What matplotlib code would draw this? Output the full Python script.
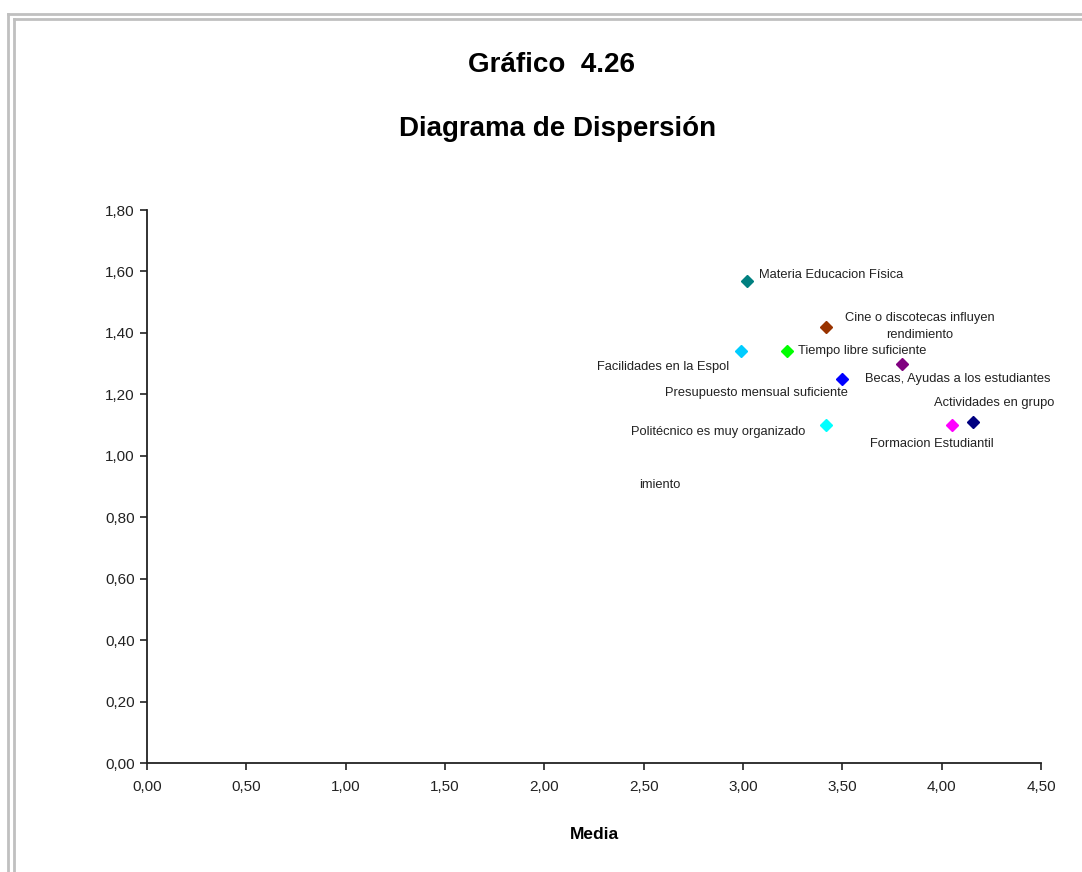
import matplotlib.pyplot as plt
from matplotlib.lines import Line2D
from matplotlib.ticker import FuncFormatter

plt.rcParams['font.family'] = ['Liberation Sans', 'DejaVu Sans']

# medias y desviaciones de cada variable
etiquetas = [
    "Materia Educacion Física",
    "Cine o discotecas influyen\nrendimiento",
    "Facilidades en la Espol",
    "Tiempo libre suficiente",
    "Becas, Ayudas a los estudiantes",
    "Presupuesto mensual suficiente",
    "Politécnico es muy organizado",
    "Formacion Estudiantil",
    "Actividades en grupo",
]
media = [3.02, 3.42, 2.99, 3.22, 3.50, 3.80, 3.42, 4.05, 4.16]
desv = [1.57, 1.42, 1.34, 1.34, 1.25, 1.30, 1.10, 1.10, 1.11]
colores = ["#008080", "#993300", "#00ccff", "#00ff00", "#0000ff",
           "#800080", "#00ffff", "#ff00ff", "#000080"]

# desplazamiento de cada etiqueta (pixeles) y alineacion
desplaz = [(12, 6), (93, 0), (-12, -16), (11, 0), (23, 0),
           (-145, -29), (-21, -7), (-20, -19), (21, 19)]
alin = ["left", "center", "right", "left", "left",
        "center", "right", "center", "center"]

fig = plt.figure(figsize=(10.82, 8.72), dpi=100)
ax = fig.add_axes([147/1082, 1 - 763/872, (1041-147)/1082, (763-210)/872])

for xm, ym, c, txt, off, ha in zip(media, desv, colores, etiquetas, desplaz, alin):
    ax.plot(xm, ym, marker="D", color=c, markersize=6.5, linestyle="none",
            clip_on=False)
    ax.annotate(txt, (xm, ym), xytext=off, textcoords="offset pixels",
                ha=ha, va="center", fontsize=9.3, color="#222222",
                linespacing=1.5, multialignment="center")

# resto de etiqueta que quedo suelta
ax.text(2.58, 0.905, "imiento", ha="center", va="center", fontsize=9.3,
        color="#222222")

ax.set_xlim(0, 4.5)
ax.set_ylim(0, 1.8)
ax.set_xticks([i * 0.5 for i in range(10)])
ax.set_yticks([i * 0.2 for i in range(10)])
coma = FuncFormatter(lambda v, p: f"{v:.2f}".replace(".", ","))
ax.xaxis.set_major_formatter(coma)
ax.yaxis.set_major_formatter(coma)
ax.tick_params(direction="out", length=5, width=1.2, labelsize=11,
               colors="#222222", pad=7)
ax.tick_params(axis="y", pad=4)
for s in ["top", "right"]:
    ax.spines[s].set_visible(False)
for s in ["left", "bottom"]:
    ax.spines[s].set_linewidth(1.3)
    ax.spines[s].set_color("#222222")

ax.set_xlabel("Media", fontsize=12.5, fontweight="bold", labelpad=24)

fig.text(552/1082, 1 - 65/872, "Gráfico  4.26", ha="center", va="center",
         fontsize=20, fontweight="bold")
fig.text(558/1082, 1 - 129/872, "Diagrama de Dispersión", ha="center",
         va="center", fontsize=20, fontweight="bold")

# marco doble gris
for x0, y0 in [(8, 14), (14, 19)]:
    fig.add_artist(Line2D([x0/1082, x0/1082], [0, 1 - y0/872],
                          transform=fig.transFigure, color="#c0c0c0", lw=2))
    fig.add_artist(Line2D([x0/1082, 1], [1 - y0/872, 1 - y0/872],
                          transform=fig.transFigure, color="#c0c0c0", lw=2))

fig.savefig("out.png", dpi=100)
